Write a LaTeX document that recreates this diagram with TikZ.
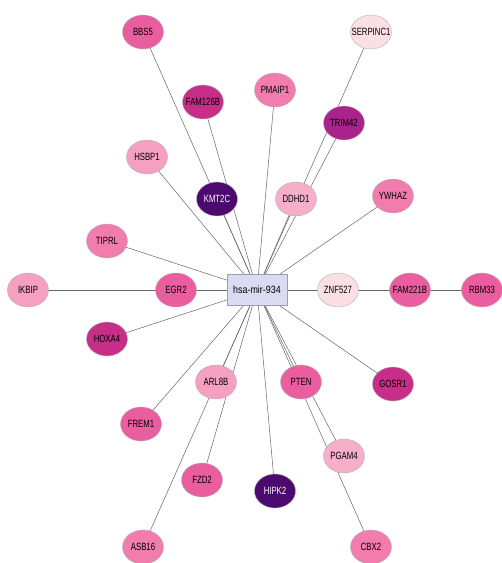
\documentclass[tikz,border=0pt]{standalone}
\usepackage{fontspec}
\setmainfont{Liberation Sans}
\newfontfamily\lblfont{Liberation Sans}[FakeStretch=0.74]
\newfontfamily\hubfont{Liberation Sans}[FakeStretch=0.85]
\usetikzlibrary{shapes.geometric,backgrounds}
\newcommand\gl[1]{\makebox[0pt]{#1}}
\definecolor{hubfill}{HTML}{D9DCF0}
\definecolor{hubdraw}{HTML}{9A9CB8}
\definecolor{cA}{HTML}{EA5E9F}% hot pink
\definecolor{cB}{HTML}{C62E88}% magenta
\definecolor{cC}{HTML}{F27CAD}% pink
\definecolor{cD}{HTML}{FBE0E3}% very light
\definecolor{cE}{HTML}{AA228C}% dark magenta
\definecolor{cF}{HTML}{F6A0C1}% light pink
\definecolor{cG}{HTML}{4C0A6E}% dark purple
\definecolor{cH}{HTML}{F7AEC8}% lighter pink
\begin{document}
\begin{tikzpicture}[x=1pt,y=-1pt,
  gene/.style={ellipse, draw=black!30, line width=0.4pt, minimum width=41pt,
    minimum height=34pt, inner sep=0pt, text=black,
    font=\lblfont\fontsize{10.5}{11}\selectfont},
  hub/.style={rectangle, draw=hubdraw, fill=hubfill, line width=0.5pt,
    minimum width=60pt, minimum height=31pt, inner sep=0pt,
    font=\hubfont\fontsize{10.5}{11}\selectfont, text=black},
  link/.style={draw=black!60, line width=0.5pt}]
\useasboundingbox (0,0) rectangle (502,563);
\node[hub] (hub) at (257,290) {hsa-mir-934};
\node[gene, fill=cA] (bbs) at (143,32) {\gl{BBS5}};
\node[gene, fill=cB] (fam126) at (203,102) {\gl{FAM126B}};
\node[gene, fill=cC] (pmaip) at (275,90) {\gl{PMAIP1}};
\node[gene, fill=cD] (serp) at (371,32) {\gl{SERPINC1}};
\node[gene, fill=cE] (trim) at (344,123) {\gl{TRIM42}};
\node[gene, fill=cF] (hsbp) at (147,157) {\gl{HSBP1}};
\node[gene, fill=cG, text=white] (kmt) at (217,199) {\gl{KMT2C}};
\node[gene, fill=cH] (ddhd) at (296,199) {\gl{DDHD1}};
\node[gene, fill=cC] (ywhaz) at (393,196) {\gl{YWHAZ}};
\node[gene, fill=cC] (tiprl) at (107,241) {\gl{TIPRL}};
\node[gene, fill=cF] (ikbip) at (28,290) {\gl{IKBIP}};
\node[gene, fill=cA] (egr) at (176,290) {\gl{EGR2}};
\node[gene, fill=cB] (hoxa) at (107,339) {\gl{HOXA4}};
\node[gene, fill=cD] (znf) at (338,290) {\gl{ZNF527}};
\node[gene, fill=cA] (fam221) at (410,290) {\gl{FAM221B}};
\node[gene, fill=cA] (rbm) at (482,290) {\gl{RBM33}};
\node[gene, fill=cF] (arl) at (216,382) {\gl{ARL8B}};
\node[gene, fill=cA] (pten) at (301,382) {\gl{PTEN}};
\node[gene, fill=cB] (gosr) at (393,384) {\gl{GOSR1}};
\node[gene, fill=cA] (frem) at (141,424) {\gl{FREM1}};
\node[gene, fill=cA] (fzd) at (202,480) {\gl{FZD2}};
\node[gene, fill=cC] (asb) at (143,547) {\gl{ASB16}};
\node[gene, fill=cG, text=white] (hipk) at (275,491) {\gl{HIPK2}};
\node[gene, fill=cH] (pgam) at (344,456) {\gl{PGAM4}};
\node[gene, fill=cC] (cbx) at (371,547) {\gl{CBX2}};
\begin{scope}[on background layer]
\fill[white] (0,0) rectangle (502,563);
\foreach \n in {bbs,fam126,pmaip,serp,trim,hsbp,kmt,ddhd,ywhaz,tiprl,ikbip,egr,hoxa,znf,fam221,rbm,arl,pten,gosr,frem,fzd,asb,hipk,pgam,cbx}
  \draw[link] (hub.center) -- (\n.center);
\end{scope}
\end{tikzpicture}
\end{document}
